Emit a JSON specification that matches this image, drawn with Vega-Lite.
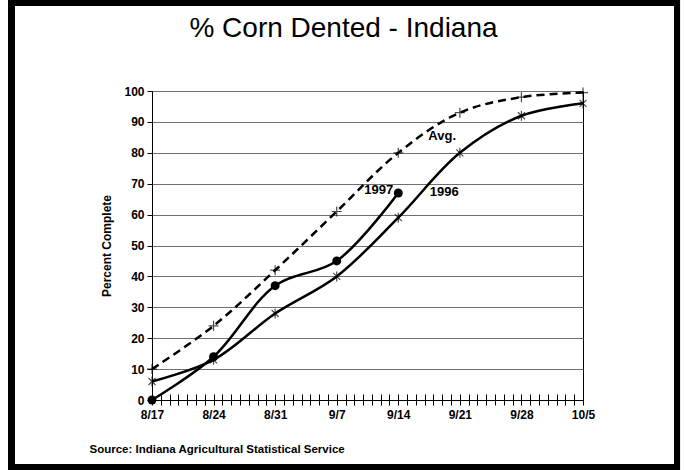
{
  "$schema": "https://vega.github.io/schema/vega-lite/v6.json",
  "width": 431,
  "height": 309,
  "autosize": "none",
  "padding": {"left": 152, "top": 91, "right": 101, "bottom": 70},
  "background": "white",
  "title": {
    "text": "% Corn Dented - Indiana",
    "font": "Liberation Sans",
    "fontSize": 28,
    "fontWeight": "normal",
    "color": "black",
    "anchor": "middle",
    "frame": "group",
    "baseline": "alphabetic",
    "dx": -24,
    "offset": -65
  },
  "config": {
    "view": {"stroke": "black", "strokeWidth": 1},
    "axis": {
      "labelFont": "Liberation Sans",
      "labelFontWeight": "bold",
      "labelFontSize": 12,
      "labelColor": "black",
      "titleFont": "Liberation Sans",
      "titleFontWeight": "bold",
      "titleColor": "black",
      "domainColor": "black",
      "tickColor": "black"
    },
    "axisY": {"grid": true, "gridColor": "#707070", "gridWidth": 1.2, "tickSize": 5, "labelPadding": 3, "labelOverlap": false, "titleFontSize": 12, "titlePadding": 10},
    "text": {"font": "Liberation Sans", "fontWeight": "bold", "fontSize": 13, "color": "black"}
  },
  "data": {
    "values": [
      {"date": "1997/08/17", "series": "Avg.", "value": 10},
      {"date": "1997/08/24", "series": "Avg.", "value": 24},
      {"date": "1997/08/31", "series": "Avg.", "value": 42},
      {"date": "1997/09/07", "series": "Avg.", "value": 61},
      {"date": "1997/09/14", "series": "Avg.", "value": 80},
      {"date": "1997/09/21", "series": "Avg.", "value": 93},
      {"date": "1997/09/28", "series": "Avg.", "value": 98},
      {"date": "1997/10/05", "series": "Avg.", "value": 99.5},
      {"date": "1997/08/17", "series": "1996", "value": 6},
      {"date": "1997/08/24", "series": "1996", "value": 13},
      {"date": "1997/08/31", "series": "1996", "value": 28},
      {"date": "1997/09/07", "series": "1996", "value": 40},
      {"date": "1997/09/14", "series": "1996", "value": 59},
      {"date": "1997/09/21", "series": "1996", "value": 80},
      {"date": "1997/09/28", "series": "1996", "value": 92},
      {"date": "1997/10/05", "series": "1996", "value": 96},
      {"date": "1997/08/17", "series": "1997", "value": 0},
      {"date": "1997/08/24", "series": "1997", "value": 14},
      {"date": "1997/08/31", "series": "1997", "value": 37},
      {"date": "1997/09/07", "series": "1997", "value": 45},
      {"date": "1997/09/14", "series": "1997", "value": 67}
    ]
  },
  "resolve": {"axis": {"x": "independent"}},
  "layer": [
    {
      "mark": {"type": "rect", "filled": false, "stroke": "black", "strokeWidth": 6, "clip": false},
      "encoding": {
        "x": {"datum": {"year": 1997, "month": 8, "date": 1}, "type": "temporal",
              "scale": {"domain": [{"year": 1997, "month": 8, "date": 17}, {"year": 1997, "month": 10, "date": 5}], "nice": false},
              "axis": {"orient": "bottom", "offset": -6, "domain": false, "labels": false, "title": null, "grid": false,
                       "tickCount": {"interval": "day", "step": 1}, "tickSize": 6}},
        "x2": {"datum": {"year": 1997, "month": 10, "date": 15, "hours": 16, "minutes": 30}},
        "y": {"datum": 128.5, "type": "quantitative",
              "scale": {"domain": [0, 100], "nice": false},
              "axis": {"values": [0, 10, 20, 30, 40, 50, 60, 70, 80, 90, 100], "tickCount": 11, "title": "Percent Complete"}},
        "y2": {"datum": -21.7}
      }
    },
    {
      "transform": [{"filter": "datum.series == 'Avg.'"}],
      "mark": {"type": "line", "interpolate": "catmull-rom", "color": "black", "strokeWidth": 2.5, "strokeDash": [8, 5]},
      "encoding": {
        "x": {"field": "date", "type": "temporal",
              "axis": {"orient": "bottom", "grid": false, "tickCount": {"interval": "day", "step": 1}, "tickSize": 5,
                       "labelExpr": "day(datum.value) == 0 ? timeFormat(datum.value, '%-m/%-d') : ''",
                       "labelOverlap": false, "labelFlush": false, "labelPadding": 4,
                       "title": "Source:  Indiana Agricultural Statistical Service",
                       "titleFontSize": 11.5, "titleAnchor": "start", "titleAlign": "left", "titleX": -63, "titlePadding": 23}},
        "y": {"field": "value", "type": "quantitative",
              "axis": {"values": [0, 10, 20, 30, 40, 50, 60, 70, 80, 90, 100], "tickCount": 11, "title": "Percent Complete"}}
      }
    },
    {
      "transform": [{"filter": "datum.series == '1996'"}],
      "mark": {"type": "line", "interpolate": "catmull-rom", "color": "black", "strokeWidth": 2.5},
      "encoding": {
        "x": {"field": "date", "type": "temporal", "axis": null},
        "y": {"field": "value", "type": "quantitative",
              "axis": {"values": [0, 10, 20, 30, 40, 50, 60, 70, 80, 90, 100], "tickCount": 11, "title": "Percent Complete"}}
      }
    },
    {
      "transform": [{"filter": "datum.series == '1997'"}],
      "mark": {"type": "line", "interpolate": "catmull-rom", "color": "black", "strokeWidth": 2.5},
      "encoding": {
        "x": {"field": "date", "type": "temporal", "axis": null},
        "y": {"field": "value", "type": "quantitative",
              "axis": {"values": [0, 10, 20, 30, 40, 50, 60, 70, 80, 90, 100], "tickCount": 11, "title": "Percent Complete"}}
      }
    },
    {
      "transform": [{"filter": "datum.series == 'Avg.'"}],
      "mark": {"type": "point", "shape": "M-1,0L1,0M0,-1L0,1", "filled": false, "stroke": "black", "strokeWidth": 1.2, "size": 100},
      "encoding": {
        "x": {"field": "date", "type": "temporal", "axis": null},
        "y": {"field": "value", "type": "quantitative",
              "axis": {"values": [0, 10, 20, 30, 40, 50, 60, 70, 80, 90, 100], "tickCount": 11, "title": "Percent Complete"}}
      }
    },
    {
      "transform": [{"filter": "datum.series == '1996'"}],
      "mark": {"type": "point", "shape": "M-0.7,-0.7L0.7,0.7M-0.7,0.7L0.7,-0.7M0,-1L0,1", "filled": false, "stroke": "black", "strokeWidth": 1.2, "size": 100},
      "encoding": {
        "x": {"field": "date", "type": "temporal", "axis": null},
        "y": {"field": "value", "type": "quantitative",
              "axis": {"values": [0, 10, 20, 30, 40, 50, 60, 70, 80, 90, 100], "tickCount": 11, "title": "Percent Complete"}}
      }
    },
    {
      "transform": [{"filter": "datum.series == '1997'"}],
      "mark": {"type": "point", "shape": "circle", "filled": true, "color": "black", "opacity": 1, "size": 80},
      "encoding": {
        "x": {"field": "date", "type": "temporal", "axis": null},
        "y": {"field": "value", "type": "quantitative",
              "axis": {"values": [0, 10, 20, 30, 40, 50, 60, 70, 80, 90, 100], "tickCount": 11, "title": "Percent Complete"}}
      }
    },
    {
      "data": {"values": [
        {"date": "1997/09/17 10:00", "value": 85.5, "label": "Avg."},
        {"date": "1997/09/17 14:00", "value": 67.3, "label": "1996"}
      ]},
      "mark": {"type": "text", "baseline": "middle", "align": "left"},
      "encoding": {
        "x": {"field": "date", "type": "temporal", "axis": null},
        "y": {"field": "value", "type": "quantitative",
              "axis": {"values": [0, 10, 20, 30, 40, 50, 60, 70, 80, 90, 100], "tickCount": 11, "title": "Percent Complete"}},
        "text": {"field": "label"}
      }
    },
    {
      "data": {"values": [
        {"date": "1997/09/14", "value": 67.8, "label": "1997"}
      ]},
      "mark": {"type": "text", "baseline": "middle", "align": "right", "dx": -5},
      "encoding": {
        "x": {"field": "date", "type": "temporal", "axis": null},
        "y": {"field": "value", "type": "quantitative",
              "axis": {"values": [0, 10, 20, 30, 40, 50, 60, 70, 80, 90, 100], "tickCount": 11, "title": "Percent Complete"}},
        "text": {"field": "label"}
      }
    }
  ]
}
